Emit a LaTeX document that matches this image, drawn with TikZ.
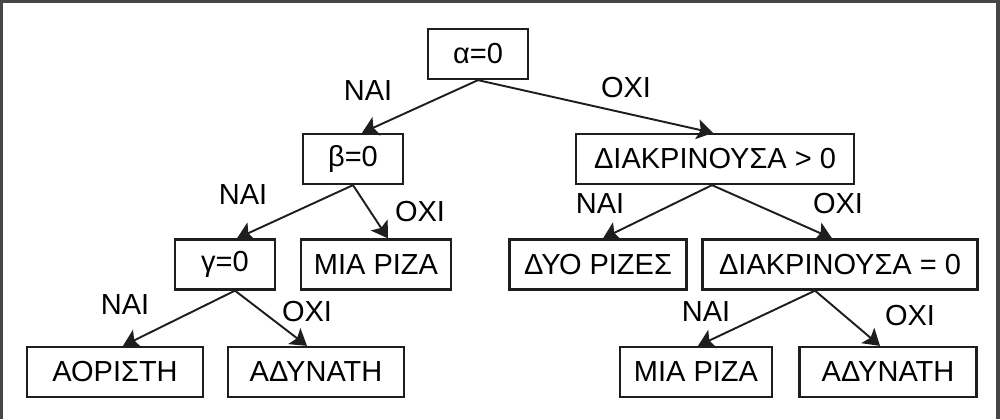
\documentclass[tikz,border=0pt]{standalone}
\usepackage{fontspec}
\setmainfont{Liberation Sans}
\usetikzlibrary{arrows.meta}
\definecolor{frame}{RGB}{70,70,70}
\definecolor{ink}{RGB}{30,30,30}
\tikzset{
  >={Stealth[length=3.2mm,width=4mm,inset=0.7mm]},
  box/.style={draw=ink,line width=1.3pt,fill=white,minimum height=1cm,
    minimum width=#1,inner sep=0pt,font=\fontsize{16.5}{19}\selectfont},
  box/.default=2cm,
  flow/.style={->,line width=1.1pt,draw=ink},
  tag/.style={font=\fontsize{16.5}{19}\selectfont,inner sep=0pt},
}
\begin{document}
\begin{tikzpicture}[x=0.02cm,y=-0.02cm]
    \useasboundingbox (0,0) rectangle (1000,419);
    \fill[frame] (0,0) rectangle (1000,3);
    \fill[frame] (0,0) rectangle (3,419);
    \fill[frame] (996,0) rectangle (1000,419);
    % decision boxes
    \node[box] (alpha) at (478,54) {α=0};
    \node[box] (beta) at (353,159) {β=0};
    \node[box=5.55cm] (disc) at (715,159) {ΔΙΑΚΡΙΝΟΥΣΑ > 0};
    \node[box] (gamma) at (225,264.5) {γ=0};
    \node[box=3cm] (one) at (376,264.5) {ΜΙΑ ΡΙΖΑ};
    \node[box=3.54cm] (two) at (598,264.5) {ΔΥΟ ΡΙΖΕΣ};
    \node[box=5.5cm] (zero) at (840,264.5) {ΔΙΑΚΡΙΝΟΥΣΑ = 0};
    \node[box=3.52cm] (inf) at (115,372) {ΑΟΡΙΣΤΗ};
    \node[box=3.52cm] (none) at (316,372) {ΑΔΥΝΑΤΗ};
    \node[box=3.04cm] (oneb) at (696,372) {ΜΙΑ ΡΙΖΑ};
    \node[box=3.54cm] (noneb) at (888,372) {ΑΔΥΝΑΤΗ};
    % connectors
    \draw[flow] (alpha.south) -- ([xshift=0.18cm]beta.north);
    \draw[flow] (alpha.south) -- ([xshift=-0.04cm]disc.north);
    \draw[flow] (beta.south) -- ([xshift=0.24cm]gamma.north);
    \draw[flow] (beta.south) -- ([xshift=0.24cm]one.north);
    \draw[flow] ([xshift=-0.06cm]disc.south) -- ([xshift=0.1cm]two.north);
    \draw[flow] ([xshift=-0.06cm]disc.south) -- ([xshift=-0.16cm]zero.north);
    \draw[flow] ([xshift=0.2cm]gamma.south) -- ([xshift=0.16cm]inf.north);
    \draw[flow] ([xshift=0.2cm]gamma.south) -- ([xshift=-0.18cm]none.north);
    \draw[flow] ([xshift=-0.5cm]zero.south) -- ([xshift=0.04cm]oneb.north);
    \draw[flow] ([xshift=-0.5cm]zero.south) -- ([xshift=-0.16cm]noneb.north);
    % answers
    \node[tag] (y1) at (368,91) {ΝΑΙ};
    \node[tag] (n1) at (626,88) {ΟΧΙ};
    \node[tag] (y2) at (243,195) {ΝΑΙ};
    \node[tag] (n2) at (420,212) {ΟΧΙ};
    \node[tag] (y3) at (600,204) {ΝΑΙ};
    \node[tag] (n3) at (838,204) {ΟΧΙ};
    \node[tag] (y4) at (125,305) {ΝΑΙ};
    \node[tag] (n4) at (307,312) {ΟΧΙ};
    \node[tag] (y5) at (706,312) {ΝΑΙ};
    \node[tag] (n5) at (910,316) {ΟΧΙ};
\end{tikzpicture}
\end{document}
